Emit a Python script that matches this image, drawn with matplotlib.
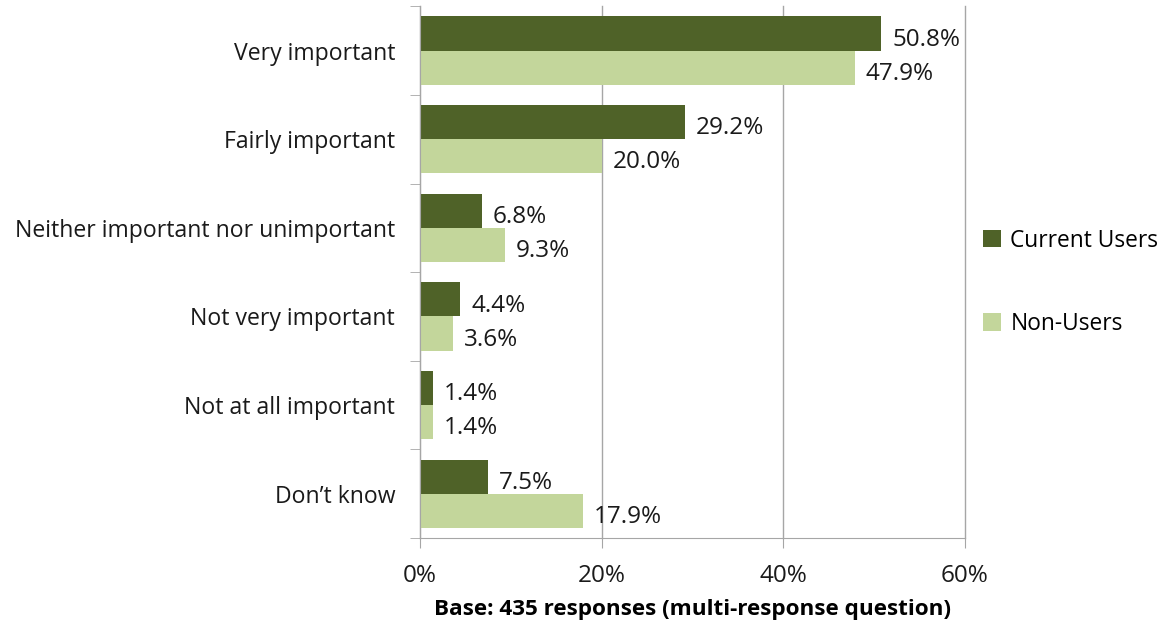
import numpy as np
import matplotlib.pyplot as plt
from matplotlib.ticker import FuncFormatter, FixedLocator

categories = ["Very important", "Fairly important", "Neither important nor unimportant",
              "Not very important", "Not at all important", "Don\u2019t know"]
current_users = [50.8, 29.2, 6.8, 4.4, 1.4, 7.5]
non_users = [47.9, 20.0, 9.3, 3.6, 1.4, 17.9]
series_names = ["Current Users", "Non-Users"]
xticks = [0, 20, 40, 60]

dark = "#4F6228"
light = "#C3D69B"
grey = "#A6A6A6"
txt = "#1a1a1a"

plt.rcParams['font.family'] = ['Open Sans', 'DejaVu Sans']

fig = plt.figure(figsize=(11.64, 6.27), dpi=100)
ax = fig.add_axes([0.361, 0.142, 0.468, 0.848])

y = np.arange(len(categories))
h = 0.385
b1 = ax.barh(y - h / 2, current_users, height=h, color=dark, label=series_names[0])
b2 = ax.barh(y + h / 2, non_users, height=h, color=light, label=series_names[1])

# value labels sit just right of each bar, a touch below its centre
for bars, vals in ((b1, current_users), (b2, non_users)):
    for bar, v in zip(bars, vals):
        ax.text(v + 1.2, bar.get_y() + bar.get_height() / 2 + 0.07, f"{v:.1f}%",
                va="center", ha="left", fontsize=17.5, color=txt)

ax.set_ylim(len(categories) - 0.5, -0.5)
ax.set_xlim(0, 60)
ax.set_yticks(y)
ax.set_yticklabels(categories, fontsize=16.6, color=txt)
ax.yaxis.set_minor_locator(FixedLocator(np.arange(-0.5, len(categories), 1)))
ax.tick_params(axis="y", which="major", length=0, pad=18)
ax.tick_params(axis="y", which="minor", length=7, color=grey, direction="out")
ax.set_xticks(xticks)
ax.xaxis.set_major_formatter(FuncFormatter(lambda v, p: f"{v:.0f}%"))
ax.tick_params(axis="x", length=7, color=grey, labelsize=17.5, labelcolor=txt, pad=12)
ax.grid(axis="x", color=grey, linewidth=1)
for gl in ax.get_xgridlines():
    gl.set_clip_on(False)
ax.set_axisbelow(True)
for s in ("top", "right"):
    ax.spines[s].set_visible(False)
for s in ("left", "bottom"):
    ax.spines[s].set_color(grey)
ax.set_xlabel("Base: 435 responses (multi-response question)", fontsize=16.2,
              fontweight="bold", labelpad=8)

fig.legend(handles=[b1, b2], loc="center left", bbox_to_anchor=(0.827, 0.55),
           frameon=False, fontsize=16.4, handlelength=0.8, handleheight=0.8,
           handletextpad=0.4, labelspacing=2.6)

fig.savefig("out.png", dpi=100)
